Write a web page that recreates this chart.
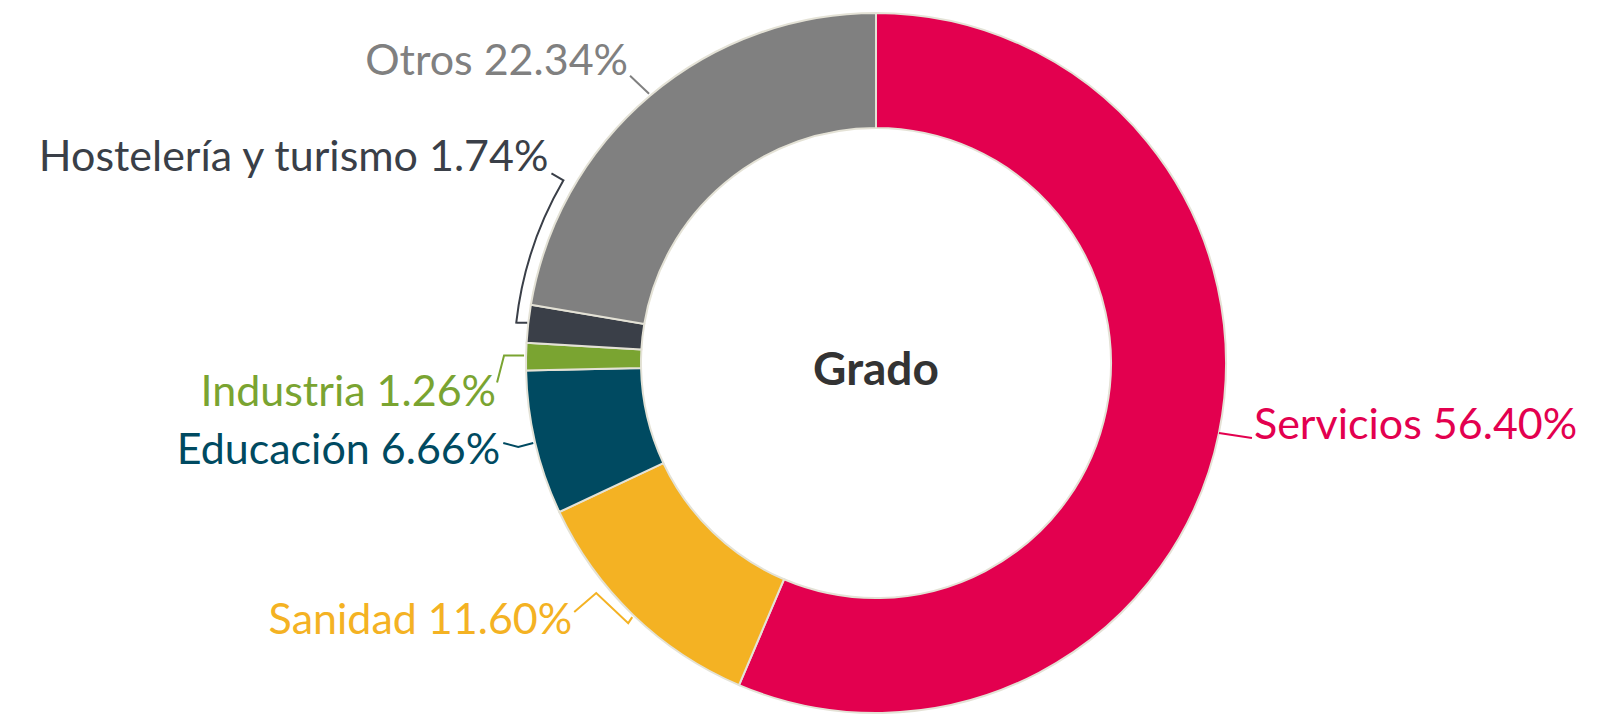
<!DOCTYPE html>
<html>
<head>
<meta charset="utf-8">
<script src="https://cdn.jsdelivr.net/npm/d3@7"></script>
<style>
	body { margin: 0; background: #fff; }
	svg { display: block; }
	text { font-family: Lato, "Noto Sans", sans-serif; }
</style>
</head>
<body>
<svg id="chart"></svg>
<script>
const categories = ["Servicios", "Sanidad", "Educación", "Industria", "Hostelería y turismo", "Otros"];
const shares = [56.4, 11.6, 6.66, 1.26, 1.74, 22.34];
const colors = ["#e3004f", "#f4b223", "#004a61", "#7aa431", "#3a3f48", "#808080"];
const centerTitle = "Grado";

const chartSize = { width: 1614, height: 714 };
const center = { x: 876, y: 363 };
const outerRadius = 350;
const innerRadius = 235;

// leader shapes, offsets from the slice's outer mid point
const leaders = [
	{ pts: [[0, 0], [33, 5]], text: [35, 6], anchor: "start" },
	{ pts: [[-1, 2], [-5, 8], [-37, -22], [-59, -3]], text: [-61, 19], anchor: "end" },
	{ pts: [[-2, 0], [-17, 4], [-32, 0]], text: [-35, 21], anchor: "end" },
	{ pts: [[-2, -1], [-22, -1], [-29, 26]], text: [-30, 49], anchor: "end" },
	{ pts: [[-1, -1], [-11, -1]], arc: { r: 362, to: 300.3 }, tail: [-12, -7], text: [-15, -9], anchor: "end" },
	{ pts: [[-1, -2], [-20, -20]], text: [-22, -21], anchor: "end" }
];

const _last = arr => arr[arr.length - 1];

const pointAt = (angle, r) => [r * Math.sin(angle), -r * Math.cos(angle)];

const leaderPath = (p, spec) => {
	const path = d3.path();
	spec.pts.forEach(([dx, dy], i) => {
		if (i === 0) path.moveTo(p[0] + dx, p[1] + dy);
		else path.lineTo(p[0] + dx, p[1] + dy);
	});
	let end = [p[0] + _last(spec.pts)[0], p[1] + _last(spec.pts)[1]];
	if (spec.arc) {
		const a0 = Math.atan2(end[0], -end[1]);
		const a1 = (spec.arc.to * Math.PI) / 180 - 2 * Math.PI;
		path.arc(0, 0, spec.arc.r, a0 - Math.PI / 2, a1 - Math.PI / 2, false);
		const e = pointAt(a1, spec.arc.r);
		path.lineTo(e[0] + spec.tail[0], e[1] + spec.tail[1]);
		end = e;
	}
	return { d: path.toString(), ref: end };
};

const drawChart = () => {
	const svg = d3
		.select("#chart")
		.attr("width", chartSize.width)
		.attr("height", chartSize.height);

	const g = svg.append("g").attr("transform", `translate(${center.x},${center.y})`);

	const data = categories.map((name, i) => ({ name, value: shares[i], color: colors[i] }));

	const pie = d3
		.pie()
		.sort(null)
		.value(d => d.value);

	const arc = d3
		.arc()
		.innerRadius(innerRadius)
		.outerRadius(outerRadius);

	const slices = pie(data);

	g.selectAll("path.slice")
		.data(slices)
		.enter()
		.append("path")
		.attr("class", "slice")
		.attr("d", arc)
		.attr("fill", d => d.data.color)
		.attr("stroke", "#e4e2d6")
		.attr("stroke-width", 2);

	slices.forEach((s, i) => {
		const mid = (s.startAngle + s.endAngle) / 2;
		const p = pointAt(mid, outerRadius);
		const spec = leaders[i];
		const { d, ref } = leaderPath(p, spec);
		const base = spec.arc ? ref : p;

		g.append("path")
			.attr("d", d)
			.attr("fill", "none")
			.attr("stroke", s.data.color)
			.attr("stroke-width", 2);

		g.append("text")
			.attr("x", base[0] + spec.text[0])
			.attr("y", base[1] + spec.text[1])
			.attr("text-anchor", spec.anchor)
			.attr("fill", s.data.color)
			.attr("font-size", 43)
			.text(`${s.data.name} ${s.data.value.toFixed(2)}%`);
	});

	g.append("text")
		.attr("x", 0)
		.attr("y", 22)
		.attr("text-anchor", "middle")
		.attr("fill", "#333")
		.attr("font-size", 46)
		.attr("font-weight", "bold")
		.text(centerTitle);
};

drawChart();
</script>
</body>
</html>
